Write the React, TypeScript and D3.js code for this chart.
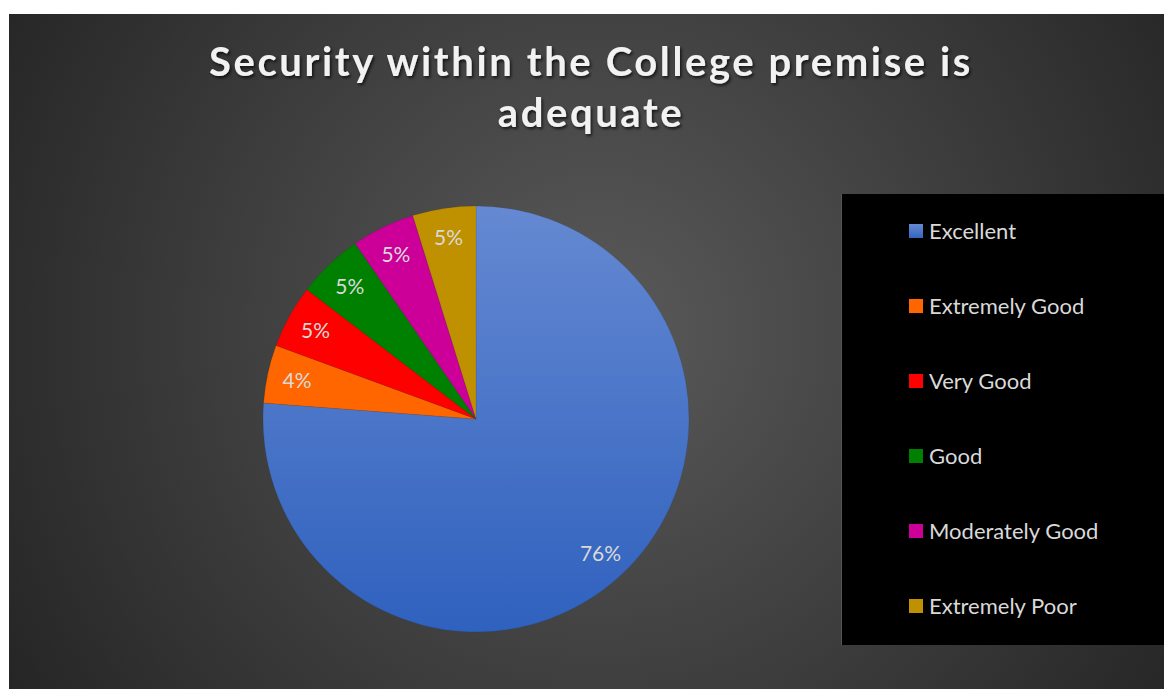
import React from "react";
import * as d3 from "d3";

const categories = ["Excellent", "Extremely Good", "Very Good", "Good", "Moderately Good", "Extremely Poor"];
const values = [76.2, 4.4, 4.8, 5.0, 4.8, 4.8];
const colors = ["#4472C4", "#FF6600", "#FF0000", "#008000", "#CC0099", "#BF9000"];
const titleLines = ["Security within the College premise is", "adequate"];

const W = 1164;
const H = 689;
const FONT = "Lato, 'Open Sans', sans-serif";

export default function App() {
  const cx = 476;
  const cy = 419;
  const r = 213;
  const total = d3.sum(values);
  const pie = d3.pie<number>().sort(null).value((d) => d).startAngle(0).endAngle(2 * Math.PI);
  const arcs = pie(values);
  const arcGen = d3.arc<d3.PieArcDatum<number>>().innerRadius(0).outerRadius(r);
  const labelArc = d3.arc<d3.PieArcDatum<number>>().innerRadius(r * 0.86).outerRadius(r * 0.86);

  const legendX = 841;
  const legendY = 194;
  const rowY = d3.scalePoint<string>().domain(categories).range([231, 606]);

  return (
    <svg width={W} height={H} style={{ position: "absolute", left: 0, top: 0 }} xmlns="http://www.w3.org/2000/svg">
      <defs>
        <radialGradient id="bg" gradientUnits="userSpaceOnUse" cx={600} cy={330} r={680}>
          <stop offset="0" stopColor="#5a5a5a" />
          <stop offset="1" stopColor="#262626" />
        </radialGradient>
        <linearGradient id="blue" gradientUnits="userSpaceOnUse" x1={0} y1={-r} x2={0} y2={r}>
          <stop offset="0" stopColor="#6589d2" />
          <stop offset="1" stopColor="#2f61be" />
        </linearGradient>
        <linearGradient id="blueSw" x1="0" y1="0" x2="0" y2="1">
          <stop offset="0" stopColor="#6589d2" />
          <stop offset="1" stopColor="#3565c0" />
        </linearGradient>
        <filter id="shadow" x="-10%" y="-30%" width="120%" height="160%">
          <feDropShadow dx="1.5" dy="2" stdDeviation="1.5" floodColor="#000" floodOpacity="0.7" />
        </filter>
      </defs>
      <rect x={0} y={0} width={W} height={H} fill="#ffffff" />
      <rect x={9} y={14} width={W - 9} height={H - 14} fill="url(#bg)" />

      <g fontFamily={FONT} fontWeight={700} fontSize={40} fill="#f2f2f2" textAnchor="middle" letterSpacing={2.6} filter="url(#shadow)">
        {titleLines.map((t, i) => (
          <text key={i} x={591} y={76 + i * 51}>{t}</text>
        ))}
      </g>

      <g transform={`translate(${cx},${cy})`}>
        {arcs.map((a, i) => (
          <path
            key={i}
            d={arcGen(a) || ""}
            fill={i === 0 ? "url(#blue)" : colors[i]}
            stroke="rgba(0,0,0,0.15)"
            strokeWidth={0.5}
          />
        ))}
      </g>
      <g fontFamily={FONT} fontSize={21} fill="#d9d9d9" textAnchor="middle">
        {arcs.map((a, i) => {
          const [lx, ly] = labelArc.centroid(a);
          return (
            <text key={i} x={cx + lx} y={cy + ly} dy="0.35em">
              {`${Math.round((values[i] / total) * 100)}%`}
            </text>
          );
        })}
      </g>

      <rect x={legendX} y={legendY} width={W - legendX} height={645 - legendY} fill="#000000" />
      <rect x={legendX} y={legendY} width={1} height={645 - legendY} fill="#555" />
      <g fontFamily={FONT} fontSize={22} fill="#d9d9d9">
        {categories.map((c, i) => (
          <g key={c} transform={`translate(0,${rowY(c)})`}>
            <rect x={909} y={-7} width={14} height={14} fill={i === 0 ? "url(#blueSw)" : colors[i]} />
            <text x={929} y={0} dy="0.35em">{c}</text>
          </g>
        ))}
      </g>
    </svg>
  );
}
